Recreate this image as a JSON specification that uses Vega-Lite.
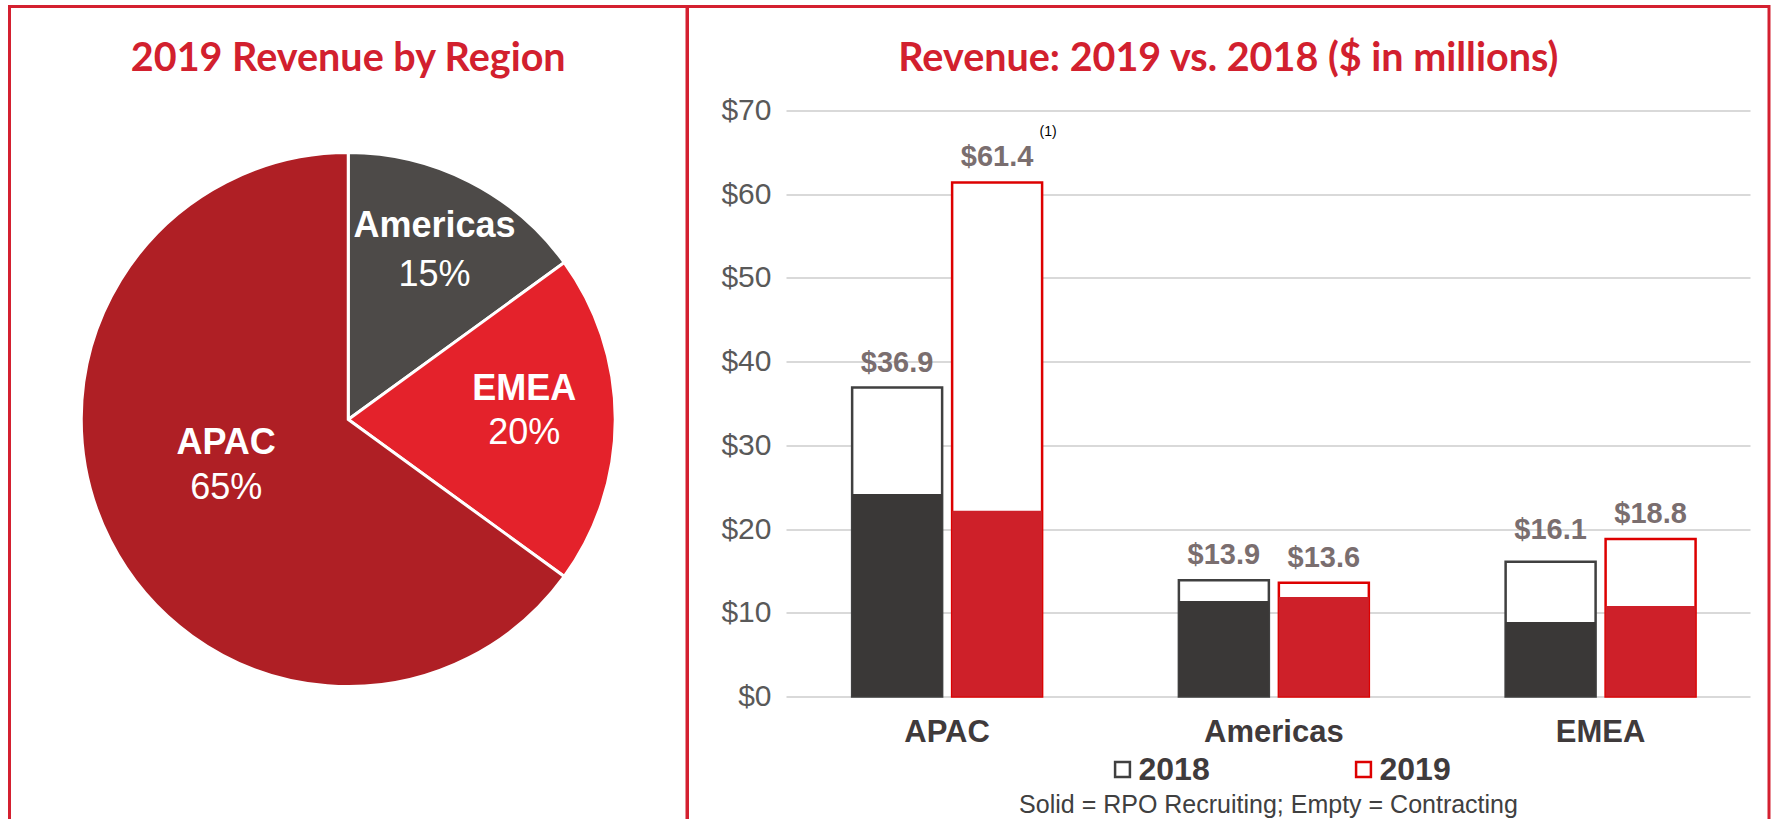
{
  "$schema": "https://vega.github.io/schema/vega-lite/v6.json",
  "background": "white",
  "padding": {"left": 7.5, "top": 4.5, "right": 0, "bottom": 0},
  "spacing": 0,
  "bounds": "flush",
  "datasets": {
    "pie": [
      {"region": "Americas", "share": 0.15, "ord": 1},
      {"region": "EMEA", "share": 0.20, "ord": 2},
      {"region": "APAC", "share": 0.65, "ord": 3}
    ],
    "bars": [
      {"region": "APAC", "year": "2018", "rpo": 24.2, "total": 36.9, "note": ""},
      {"region": "APAC", "year": "2019", "rpo": 22.2, "total": 61.4, "note": "(1)"},
      {"region": "Americas", "year": "2018", "rpo": 11.4, "total": 13.9, "note": ""},
      {"region": "Americas", "year": "2019", "rpo": 11.9, "total": 13.6, "note": ""},
      {"region": "EMEA", "year": "2018", "rpo": 8.9, "total": 16.1, "note": ""},
      {"region": "EMEA", "year": "2019", "rpo": 10.8, "total": 18.8, "note": ""}
    ]
  },
  "hconcat": [
    {
      "width": 677.5,
      "height": 826,
      "view": {"stroke": "#D42030", "strokeWidth": 3},
      "title": {"text": "2019 Revenue by Region", "font": "Lato", "fontSize": 39.5, "fontWeight": "bold", "color": "#D2202E", "frame": "group", "anchor": "middle", "baseline": "alphabetic", "offset": -104},
      "data": {"name": "pie"},
      "encoding": {
        "theta": {"field": "share", "type": "quantitative", "stack": true},
        "order": {"field": "ord", "type": "quantitative"},
        "detail": {"field": "region", "type": "nominal"}
      },
      "layer": [
        {
          "mark": {"type": "arc", "outerRadius": 267, "stroke": "white", "strokeWidth": 3},
          "encoding": {
            "color": {"field": "region", "type": "nominal", "scale": {"domain": ["Americas", "EMEA", "APAC"], "range": ["#4D4A48", "#E4222B", "#AF1F25"]}, "legend": null}
          }
        },
        {
          "mark": {"type": "text", "radius": 190, "dy": -24, "font": "Liberation Sans", "fontSize": 36, "fontWeight": "bold", "fill": "white", "baseline": "middle", "align": "center"},
          "encoding": {"text": {"condition": {"test": "datum.region === 'Americas'", "field": "region", "type": "nominal"}, "value": ""}}
        },
        {
          "mark": {"type": "text", "radius": 190, "dy": 25, "font": "Liberation Sans", "fontSize": 36, "fill": "white", "baseline": "middle", "align": "center"},
          "encoding": {"text": {"condition": {"test": "datum.region === 'Americas'", "field": "share", "type": "quantitative", "format": ".0%"}, "value": ""}}
        },
        {
          "mark": {"type": "text", "radius": 176, "dy": -31, "font": "Liberation Sans", "fontSize": 36, "fontWeight": "bold", "fill": "white", "baseline": "middle", "align": "center"},
          "encoding": {"text": {"condition": {"test": "datum.region === 'EMEA'", "field": "region", "type": "nominal"}, "value": ""}}
        },
        {
          "mark": {"type": "text", "radius": 176, "dy": 13, "font": "Liberation Sans", "fontSize": 36, "fill": "white", "baseline": "middle", "align": "center"},
          "encoding": {"text": {"condition": {"test": "datum.region === 'EMEA'", "field": "share", "type": "quantitative", "format": ".0%"}, "value": ""}}
        },
        {
          "mark": {"type": "text", "radius": 137, "dy": -39, "font": "Liberation Sans", "fontSize": 36, "fontWeight": "bold", "fill": "white", "baseline": "middle", "align": "center"},
          "encoding": {"text": {"condition": {"test": "datum.region === 'APAC'", "field": "region", "type": "nominal"}, "value": ""}}
        },
        {
          "mark": {"type": "text", "radius": 137, "dy": 6, "font": "Liberation Sans", "fontSize": 36, "fill": "white", "baseline": "middle", "align": "center"},
          "encoding": {"text": {"condition": {"test": "datum.region === 'APAC'", "field": "share", "type": "quantitative", "format": ".0%"}, "value": ""}}
        }
      ]
    },
    {
      "width": 1081.5,
      "height": 826,
      "view": {"stroke": "#D42030", "strokeWidth": 3},
      "title": {"text": "Revenue: 2019 vs. 2018 ($ in millions)", "font": "Lato", "fontSize": 39.5, "fontWeight": "bold", "color": "#D2202E", "frame": "group", "anchor": "middle", "baseline": "alphabetic", "offset": -104},
      "data": {"name": "bars"},
      "encoding": {
        "x": {
          "field": "region", "type": "nominal",
          "scale": {"domain": ["APAC", "Americas", "EMEA"], "paddingInner": 0.388, "paddingOuter": 0.349, "align": 0.7},
          "axis": {
            "orient": "bottom", "offset": -136, "domain": false, "ticks": false, "tickSize": 0, "grid": false,
            "labelAngle": 0, "labelPadding": 21, "labelFont": "Liberation Sans", "labelFontSize": 31, "labelFontWeight": "bold", "labelColor": "#3F3A3B",
            "title": "Solid = RPO Recruiting; Empty = Contracting", "titleFont": "Liberation Sans", "titleFontSize": 25, "titleFontWeight": "normal", "titleColor": "#404040",
            "titleX": 580.5, "titleY": 116, "titleBaseline": "alphabetic", "titleAlign": "center"
          }
        },
        "xOffset": {"field": "year", "type": "nominal", "scale": {"paddingInner": 0.1, "paddingOuter": 0.05}}
      },
      "layer": [
        {
          "mark": {"type": "bar", "fill": "white"},
          "encoding": {
            "y": {
              "field": "total", "type": "quantitative",
              "scale": {"domain": [-16.246, 82.423], "nice": false, "zero": false},
              "axis": {
                "orient": "left", "offset": -98.5, "values": [0, 10, 20, 30, 40, 50, 60, 70], "format": "$.0f",
                "domain": false, "ticks": false, "tickSize": 0, "grid": false, "labelPadding": 15,
                "labelFont": "Liberation Sans", "labelFontSize": 30, "labelColor": "#595959", "title": null
              }
            },
            "y2": {"datum": 0}
          }
        },
        {
          "mark": {"type": "bar", "filled": false, "strokeWidth": 2.5},
          "encoding": {
            "y": {"field": "total", "type": "quantitative", "scale": {"domain": [-16.246, 82.423], "nice": false, "zero": false}, "axis": null},
            "y2": {"datum": 0},
            "stroke": {
              "field": "year", "type": "nominal",
              "scale": {"domain": ["2018", "2019"], "range": ["#404040", "#DD0000"]},
              "legend": {
                "orient": "none", "legendX": 1097, "legendY": 747, "direction": "horizontal", "title": null, "padding": 0,
                "columnPadding": 137, "symbolType": "square", "symbolSize": 220, "symbolStrokeWidth": 2.5, "symbolFillColor": "white",
                "labelFont": "Liberation Sans", "labelFontSize": 32, "labelFontWeight": "bold", "labelColor": "#3F3B3C", "labelOffset": 0
              }
            }
          }
        },
        {
          "mark": {"type": "bar"},
          "encoding": {
            "y": {
              "field": "rpo", "type": "quantitative",
              "scale": {"domain": [-16.246, 82.423], "nice": false, "zero": false},
              "axis": {
                "orient": "right", "offset": -983, "values": [0, 10, 20, 30, 40, 50, 60, 70],
                "labels": false, "domain": false, "grid": false, "ticks": true, "tickSize": 964, "tickColor": "#D9D9D9", "tickWidth": 2, "title": null
              }
            },
            "y2": {"datum": 0},
            "fill": {"field": "year", "type": "nominal", "scale": {"domain": ["2019", "2018"], "range": ["#CE2029", "#3A3837"]}, "legend": null}
          }
        },
        {
          "transform": [{"filter": "!(datum.region === 'EMEA' && datum.year === '2018')"}],
          "mark": {"type": "text", "baseline": "alphabetic", "align": "center", "dy": -16, "font": "Liberation Sans", "fontSize": 29, "fontWeight": "bold", "fill": "#7A6E6F"},
          "encoding": {
            "y": {"field": "total", "type": "quantitative", "scale": {"domain": [-16.246, 82.423], "nice": false, "zero": false}, "axis": null},
            "text": {"field": "total", "type": "quantitative", "format": "$.1f"}
          }
        },
        {
          "transform": [{"filter": "datum.region === 'EMEA' && datum.year === '2018'"}],
          "mark": {"type": "text", "baseline": "alphabetic", "align": "center", "dy": -23, "font": "Liberation Sans", "fontSize": 29, "fontWeight": "bold", "fill": "#7A6E6F"},
          "encoding": {
            "y": {"field": "total", "type": "quantitative", "scale": {"domain": [-16.246, 82.423], "nice": false, "zero": false}, "axis": null},
            "text": {"field": "total", "type": "quantitative", "format": "$.1f"}
          }
        },
        {
          "transform": [{"filter": "datum.note != ''"}],
          "mark": {"type": "text", "baseline": "middle", "align": "center", "dx": 51, "dy": -50, "font": "Liberation Sans", "fontSize": 14, "fill": "#000000"},
          "encoding": {
            "y": {"field": "total", "type": "quantitative", "scale": {"domain": [-16.246, 82.423], "nice": false, "zero": false}, "axis": null},
            "text": {"field": "note", "type": "nominal"}
          }
        }
      ],
      "resolve": {"axis": {"y": "independent"}}
    }
  ],
  "config": {"view": {"stroke": null}, "concat": {"spacing": 0}}
}
